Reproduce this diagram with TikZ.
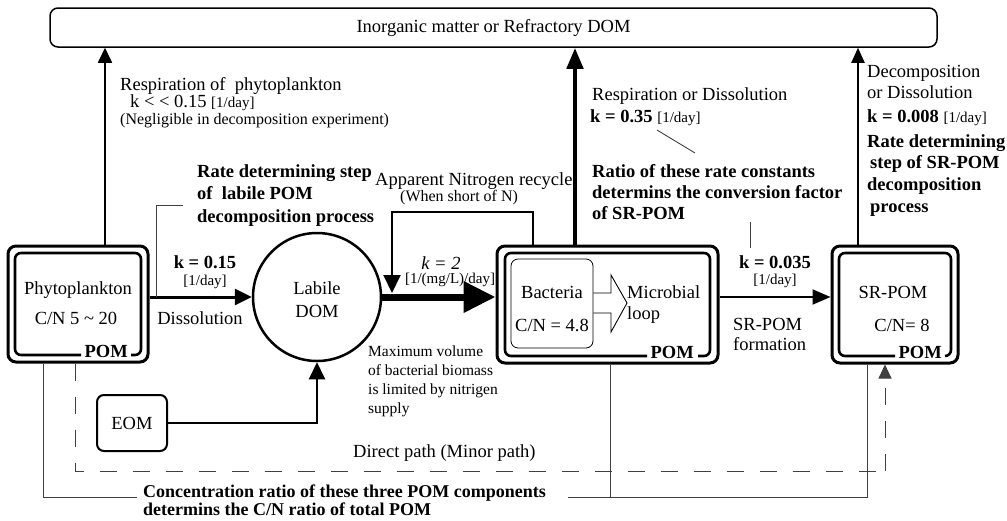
\documentclass[tikz,border=0pt]{standalone}
\usepackage{fontspec}
\setmainfont{Liberation Serif}
\usetikzlibrary{arrows.meta}
\newcommand\fA{\fontsize{18.5}{21}\selectfont}
\newcommand\fB{\fontsize{16}{19}\selectfont}
\newcommand\fC{\fontsize{15}{17}\selectfont}
\newcommand\fD{\fontsize{15.5}{18}\selectfont}
\newcommand\fE{\fontsize{18}{20}\selectfont}
\newcommand\pomframe[6]{\draw[innerframe] (#5,#4) -- (#1,#4) -- (#1,#2) -- (#3,#2) -- (#3,#4) -- (#6,#4);}
\begin{document}
\begin{tikzpicture}[x=1pt,y=-1pt,
  txt/.style={inner sep=0pt, anchor=base west, font=\fA},
  ctr/.style={inner sep=0pt, anchor=base, font=\fA},
  outerbox/.style={draw, line width=3pt, rounded corners=8pt, inner sep=0pt},
  innerframe/.style={line width=2.6pt, rounded corners=6pt},
  pom/.style={inner sep=0pt, anchor=base east, font=\fA\bfseries},
  thinline/.style={line width=0.9pt, black!75},
  arrthin/.style={line width=1.7pt, -{Triangle[length=15pt,width=14pt]}},
  arrthick/.style={line width=4.5pt, -{Triangle[length=21pt,width=16pt]}},
  arrmed/.style={line width=2pt, -{Triangle[length=15pt,width=13pt]}},
  arrdiss/.style={line width=3pt, -{Triangle[length=17pt,width=16pt]}},
  arrbig/.style={line width=7pt, -{Triangle[length=32pt,width=30pt]}},
  arrsr/.style={line width=2pt, -{Triangle[length=18pt,width=15pt]}},
  arrrec/.style={line width=2pt, -{Triangle[length=18pt,width=17pt]}},
  arreom/.style={line width=2pt, -{Triangle[length=17pt,width=16pt]}},
  dashedarr/.style={line width=0.9pt, black!75, dash pattern=on 17pt off 16pt, -{Triangle[length=14pt,width=13pt]}},
  dashedline/.style={line width=0.9pt, black!75, dash pattern=on 17pt off 16pt}
]
\useasboundingbox (0,0) rectangle (1007,520);

% ---------- top box ----------
\node[draw, line width=1.5pt, rounded corners=8pt, minimum width=887pt, minimum height=39pt, inner sep=0pt, font=\fA] (top) at (493.5,27.5) {Inorganic matter or Refractory DOM};

% ---------- boxes ----------
\node[outerbox, minimum width=140pt, minimum height=116pt] (phyto) at (78,304) {};
\pomframe{15}{253}{141}{355}{81}{131}
\node[pom] (pom1) at (128,357) {POM};
\node[ctr] (phytxt) at (78,294) {Phytoplankton};
\node[ctr] (phycn) at (76,324) {C/N 5 \textasciitilde\ 20};

\node[outerbox, minimum width=221pt, minimum height=117pt] (bact) at (607.5,304.5) {};
\pomframe{505}{253}{710}{356}{647}{698}
\node[pom] (pom2) at (694,358) {POM};
\node[draw, line width=0.8pt, rounded corners=7pt, minimum width=82pt, minimum height=89pt, inner sep=0pt] (bin) at (552,303.5) {};
\node[ctr] (bactxt) at (552,298) {Bacteria};
\node[ctr] (bactcn) at (552,331) {C/N = 4.8};
\node[txt] (micro) at (627,298) {Microbial};
\node[txt] (loop) at (627,319) {loop};
\draw[line width=0.9pt] (bin.east |- 0,293) -- (611,293) -- (611,275) -- (micro.west |- 0,303) -- (611,332) -- (611,313) -- (bin.east |- 0,313);

\node[outerbox, minimum width=126pt, minimum height=117pt] (sr) at (895,304.5) {};
\pomframe{839}{253}{951}{356}{895}{945}
\node[pom] (pom3) at (942,358) {POM};
\node[ctr] (srtxt) at (893,298) {SR-POM};
\node[ctr] (srcn) at (902,331) {C/N= 8};

% ---------- Labile DOM ----------
\node[draw, circle, line width=2.5pt, minimum size=128pt, inner sep=0pt] (dom) at (317,297) {};
\node[ctr] (domt1) at (317,294) {Labile};
\node[ctr] (domt2) at (317,317) {DOM};

% ---------- EOM ----------
\node[draw, line width=2pt, rounded corners=7pt, minimum width=70pt, minimum height=56pt, inner sep=0pt, font=\fA] (eom) at (132,423) {EOM};

% ---------- arrows to top ----------
\coordinate (xA) at (105,0);
\coordinate (xB) at (575,0);
\coordinate (xC) at (858,0);
\draw[arrthin] (xA |- phyto.north) -- (xA |- top.south);
\draw[arrthick] (xB |- bact.north) -- (xB |- top.south);
\draw[arrmed] (xC |- sr.north) -- (xC |- top.south);

% ---------- horizontal flows ----------
\draw[arrdiss] (phyto.east |- dom.center) -- (dom.west);
\draw[arrbig] (dom.east) -- (dom.east -| bact.west);
\draw[arrsr] (bact.east |- dom.center) -- (sr.west |- dom.center);

% nitrogen recycle
\coordinate (rc1) at (533,212);
\coordinate (rc2) at (392,212);
\coordinate (rc3) at (392,293);
\draw[arrrec] (rc1 |- bact.north) -- (rc1) -- (rc2) -- (rc3);

% EOM to DOM
\draw[arreom] (eom.east) -- (eom.east -| dom.south) -- (dom.south);

% ---------- bottom lines ----------
\coordinate (bl1) at (43,497);
\coordinate (bl2) at (137,497);
\coordinate (bl3) at (568,497);
\coordinate (bl4) at (867,497);
\coordinate (bv) at (610,497);
\draw[thinline] (bl1 |- phyto.south) -- (bl1) -- (bl2);
\draw[thinline] (bl3) -- (bl4) -- (bl4 |- sr.south);
\draw[thinline] (bv |- bact.south) -- (bv);

\coordinate (dl1) at (75,471);
\coordinate (dl2) at (885,471);
\draw[dashedline] (dl1 |- phyto.south) -- (dl1) -- (dl2);
\draw[dashedarr] (dl2) -- (dl2 |- sr.south);

% ---------- annotation lines ----------
\coordinate (br1) at (183,205);
\coordinate (br2) at (156,205);
\coordinate (br3) at (156,297);
\draw[thinline] (br1) -- (br2) -- (br3);
\coordinate (dg1) at (657,130);
\coordinate (dg2) at (695,153);
\draw[thinline] (dg1) -- (dg2);
\coordinate (vl1) at (750,222);
\coordinate (vl2) at (750,248);
\draw[thinline] (vl1) -- (vl2);

% ---------- texts ----------
\node[txt] (r1) at (120,90) {Respiration of\ \ phytoplankton};
\node[txt] (r2) at (130,107) {k < < 0.15 {\fC[1/day]}};
\node[txt, font=\fB] (r3) at (120,124) {(Negligible in decomposition experiment)};

\node[txt, font=\fA\bfseries] (rd1) at (197,177) {Rate determining step};
\node[txt, font=\fA\bfseries] (rd2) at (197,199) {of\ \ labile POM};
\node[txt, font=\fA\bfseries] (rd3) at (197,222) {decomposition process};

\node[txt] (an1) at (375,185) {Apparent Nitrogen recycle};
\node[txt, font=\fB] (an2) at (400,201) {(When short of N)};

\node[txt] (rr1) at (592,100) {Respiration or Dissolution};
\node[txt] (rr2) at (590,122) {\textbf{k = 0.35} {\fC[1/day]}};
\node[txt, font=\fA\bfseries] (ra1) at (592,177) {Ratio of these rate constants};
\node[txt, font=\fA\bfseries] (ra2) at (592,198) {determins the conversion factor};
\node[txt, font=\fA\bfseries] (ra3) at (592,219) {of SR-POM};

\node[txt] (dc1) at (867,77) {Decomposition};
\node[txt] (dc2) at (867,98) {or Dissolution};
\node[txt] (dc3) at (867,122) {\textbf{k = 0.008} {\fC[1/day]}};
\node[txt, font=\fA\bfseries] (dc4) at (867,147) {Rate determining};
\node[txt, font=\fA\bfseries] (dc5) at (870,168) {step of SR-POM};
\node[txt, font=\fA\bfseries] (dc6) at (867,190) {decomposition};
\node[txt, font=\fA\bfseries] (dc7) at (870,212) {process};

\node[ctr, font=\fA\bfseries] (k1) at (205,268) {k = 0.15};
\node[ctr, font=\fC] (k1u) at (205,285) {[1/day]};
\node[ctr] (diss) at (200,324) {Dissolution};

\node[ctr, font=\fA\itshape] (k2) at (441,269) {k = 2};
\node[ctr, font=\fC] (k2u) at (450,283) {[1/(mg/L)/day]};

\node[ctr, font=\fA\bfseries] (k3) at (775,268) {k = 0.035};
\node[ctr, font=\fC] (k3u) at (775,284) {[1/day]};
\node[txt] (sf1) at (733,330) {SR-POM};
\node[txt] (sf2) at (733,350) {formation};

\node[txt, font=\fD] (mx1) at (368,356) {Maximum volume};
\node[txt, font=\fD] (mx2) at (368,375) {of bacterial biomass};
\node[txt, font=\fD] (mx3) at (368,394) {is limited by nitrigen};
\node[txt, font=\fD] (mx4) at (368,413) {supply};

\node[txt] (dp) at (353,457) {Direct path (Minor path)};

\node[txt, font=\fE\bfseries] (cr1) at (143,497) {Concentration ratio of these three POM components};
\node[txt, font=\fE\bfseries] (cr2) at (143,515) {determins the C/N ratio of total POM};
\end{tikzpicture}
\end{document}
